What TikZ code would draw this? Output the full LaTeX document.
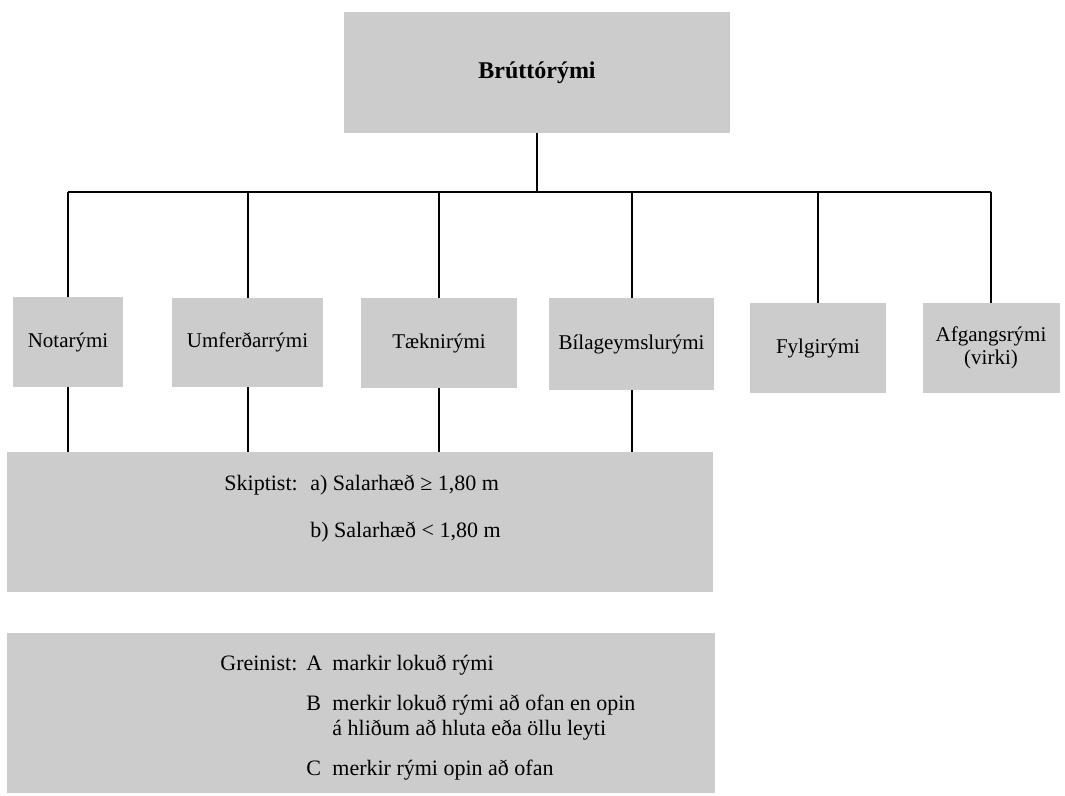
\documentclass[tikz,border=0pt]{standalone}
\usepackage{fontspec}
\setmainfont{Liberation Serif}
\usepackage{tikz}
\definecolor{stipple}{gray}{0.8}

\begin{document}
\begin{tikzpicture}[x=0.5pt,y=-0.5pt]
\tikzstyle{every node}=[font=\fontsize{10.5}{11.5}\selectfont,inner sep=0pt]
\tikzstyle{box}=[fill=stipple,align=center]
\tikzstyle{wire}=[line width=1pt]
\tikzstyle{txt}=[anchor=base west,font=\fontsize{11}{12}\selectfont]

\useasboundingbox (0,0) rectangle (1065,796);

\node[box,minimum width=193pt,minimum height=60.5pt,font=\fontsize{12}{14}\selectfont\bfseries] (brutto) at (537,72.5) {Brúttórými};

\node[box,minimum width=55pt,minimum height=45pt] (nota) at (68,342) {Notarými};
\node[box,minimum width=75.5pt,minimum height=44.5pt] (umferd) at (247.5,342.5) {Umferðarrými};
\node[box,minimum width=78pt,minimum height=45pt] (taekni) at (439,343) {Tæknirými};
\node[box,minimum width=82.5pt,minimum height=46pt] (bila) at (631.5,344) {Bílageymslurými};
\node[box,minimum width=68pt,minimum height=45pt] (fylgi) at (818,348) {Fylgirými};
\node[box,minimum width=68.5pt,minimum height=45pt] (afgangs) at (991,348) {Afgangsrými\\(virki)};

\node[box,minimum width=353pt,minimum height=70pt] (skipt) at (360,522) {};
\node[box,minimum width=354pt,minimum height=80pt] (grein) at (361,713) {};

\node[txt] (skiplbl) at (224,490) {Skiptist:};
\node[txt] (skipa) at (310,490) {a) Salarhæð ≥ 1,80 m};
\node[txt] (skipb) at (310,537) {b) Salarhæð < 1,80 m};

\node[txt] (greinlbl) at (220,670) {Greinist:};
\node[txt] (greinA) at (306,670) {A};
\node[txt] (greinAt) at (332,670) {markir lokuð rými};
\node[txt] (greinB) at (306,710) {B};
\node[txt] (greinBt) at (332,710) {merkir lokuð rými að ofan en opin};
\node[txt] (greinBu) at (332,735) {á hliðum að hluta eða öllu leyti};
\node[txt] (greinC) at (306,775) {C};
\node[txt] (greinCt) at (332,775) {merkir rými opin að ofan};

\coordinate (bus) at (537,192);
\draw[wire] (brutto.south) -- (bus);
\draw[line width=1.3pt] (nota.north |- bus) -- (afgangs.north |- bus);
\foreach \n in {nota,umferd,taekni,bila,fylgi,afgangs}
  \draw[wire] (\n.north |- bus) -- (\n.north);
\foreach \n in {nota,umferd,taekni,bila}
  \draw[wire] (\n.south) -- (\n.south |- skipt.north);
\end{tikzpicture}
\end{document}
